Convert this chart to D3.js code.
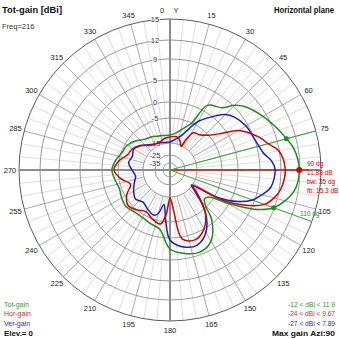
<!DOCTYPE html>
<html><head><meta charset="utf-8">
<script src="https://cdn.jsdelivr.net/npm/d3@7"></script>
<style>html,body{margin:0;padding:0;background:#fff;}svg{display:block;font-family:"Liberation Sans",Arial,sans-serif;}</style>
</head><body>
<script>
// ---- data ----
const ringValues = [15, 12, 9, 5, 0, -5, -15, -25, -35];
const angleLabels = [0,15,30,45,60,75,105,120,135,150,165,180,195,210,225,240,255,270,285,300,315,330,345];
const azimuth = [0,10,20,25,30,40,45,50,60,70,75,80,90,100,110,115,120,125,130,135,140,150,160,170,180,190,200,210,220,230,240,250,260,270,280,290,300,310,320,330,340,350];
const totGain = [-11.8,-10.6,-7.5,-5,1.5,3,5.3,6.6,8.3,9.8,10.5,11.3,11.88,11.3,8.88,5.5,-0.5,-7,-7.8,-5.8,-1,3.2,4.4,3.8,2.5,-2.5,-3.4,-4.1,-4.1,-3.4,-3.8,-4.4,-3.8,-3.1,-4,-5.4,-6,-7.8,-9.8,-10.6,-11.4,-11.8];
const horAz = [0,10,15,20,25,28,32,40,48,55,60,70,75,80,90,100,105,110,115,120,125,130,140,150,160,170,175,180,185,190,200,210,220,230,240,250,260,270,280,290,300,310,320,330,340,350];
const horGain = [-12.6,-12.2,-12.6,-13.8,-15.8,-11.8,-8.2,-7.4,-5,-1.2,2.5,6,7.2,8.9,9.67,9.2,8.4,7,3.5,-2.5,-14.6,-11.8,-4.1,0,1.4,0.45,-9.8,-14.6,-7.8,-4.1,-5,-6.6,-5,-4.1,-5.8,-9,-5.8,-3.75,-5,-7.8,-8.6,-10.6,-13,-13.8,-13.8,-13];
const verAz = [0,10,20,25,30,40,45,50,60,70,75,80,85,90,100,105,110,115,120,125,130,140,150,160,170,180,185,190,195,200,210,220,230,240,250,260,270,280,290,300,310,320,330,340,350];
const verGain = [-14.6,-13.4,-10.6,-7.4,-3.75,0.6,2.4,3.4,4.5,5,5.4,6,7.3,7.89,7.3,6,4.5,1.5,-4.1,-15.8,-13,-4.1,0.9,2.7,2.3,0.45,-5.8,-11.8,-7.8,-6.6,-7.8,-9,-7.8,-9,-10.6,-11.8,-10.6,-9,-9.8,-9,-10.6,-12.6,-13.8,-14.2,-14.6];
const maxAzi = 90, maxGain = 11.88;
const bwEdges = [75, 110];
const markerText = ["90 dg", "11.88 dB", "bw: 35 dg", "fb: 15.3 dB"];
const legendNames = ["Tot-gain", "Hor-gain", "Ver-gain"];
const rangeTexts = ["-12 < dBi < 11.9", "-24 < dBi < 9.67", "-27 < dBi < 7.89"];

// ---- drawing ----
const W = 339, H = 339, cx = 170, cy = 170, R = 151;
const green = "#1e8c1e", red = "#d40000", blue = "#1c1cc4";
const txtCols = ["#2f9a2f", "#d02a2a", "#2a2ac0"];
const svg = d3.select("body").append("svg").attr("width", W).attr("height", H);
svg.append("rect").attr("width", W).attr("height", H).attr("fill", "#fff");
const g = svg.append("g").attr("transform", `translate(${cx},${cy})`);

const rScale = d3.scaleLinear()
  .domain([-35, -25, -15, -5, 0, 5, 9, 12, 15])
  .range([7, 15, 27, 52, 68, 90, 111, 130, 151]).clamp(true);
const rad = a => a * Math.PI / 180;
const px = (a, r) => r * Math.sin(rad(a));
const py = (a, r) => -r * Math.cos(rad(a));

// spokes
const spokes = d3.range(0, 360, 5);
g.selectAll(".sp").data(spokes).enter().append("line")
  .attr("x1", d => px(d, rScale(-15))).attr("y1", d => py(d, rScale(-15)))
  .attr("x2", d => px(d, R)).attr("y2", d => py(d, R))
  .attr("stroke", d => d % 15 === 0 ? "#ababab" : "#dedede").attr("stroke-width", 1);
// rings
g.selectAll(".ring").data(ringValues).enter().append("circle")
  .attr("r", d => rScale(d)).attr("fill", "none")
  .attr("stroke", d => d === 15 ? "#5a5a5a" : "#9a9a9a").attr("stroke-width", 1);
// axes
[0, 90].forEach(a => {
  g.append("line").attr("x1", px(a, R)).attr("y1", py(a, R)).attr("x2", px(a + 180, R)).attr("y2", py(a + 180, R))
    .attr("stroke", "#8c8c8c").attr("stroke-width", 2);
});
// ring labels
g.selectAll(".rl").data(ringValues).enter().append("text")
  .attr("x", -15).attr("y", d => -rScale(d)).attr("dy", "0.35em")
  .attr("text-anchor", "middle").attr("font-size", 7.5).attr("fill", "#333")
  .attr("stroke", "#fff").attr("stroke-width", 1.5).attr("paint-order", "stroke")
  .text(d => d);
// angle labels
g.selectAll(".al").data(angleLabels).enter().append("text")
  .attr("x", d => d === 0 ? -8 : px(d, 160)).attr("y", d => py(d, 160)).attr("dy", "0.35em")
  .attr("text-anchor", "middle").attr("font-size", 7.5).attr("fill", "#222")
  .text(d => d);
g.append("text").attr("x", 6).attr("y", py(0, 160)).attr("dy", "0.35em").attr("text-anchor", "middle")
  .attr("font-size", 7.5).attr("fill", "#222").text("Y");

// markers
g.append("line").attr("x1", 0).attr("y1", 0).attr("x2", px(maxAzi, 138)).attr("y2", py(maxAzi, 138))
  .attr("stroke", red).attr("stroke-width", 1);
bwEdges.forEach(a => {
  g.append("line").attr("x1", 0).attr("y1", 0).attr("x2", px(a, 150)).attr("y2", py(a, 150))
    .attr("stroke", "#3aa63a").attr("stroke-width", 1);
});

// curves
const series = [
  { az: azimuth, v: totGain, c: green },
  { az: horAz, v: horGain, c: red },
  { az: verAz, v: verGain, c: blue }
];
const line = d3.lineRadial().angle(d => rad(d[0])).radius(d => rScale(d[1]))
  .curve(d3.curveCatmullRomClosed.alpha(0.5));
[series[2], series[1], series[0]].forEach(s => {
  g.append("path").attr("d", line(s.az.map((a, i) => [a, s.v[i]])))
    .attr("fill", "none").attr("stroke", s.c).attr("stroke-width", 1.5);
});

// marker dots
g.append("circle").attr("cx", px(maxAzi, rScale(maxGain))).attr("cy", py(maxAzi, rScale(maxGain))).attr("r", 3).attr("fill", red);
bwEdges.forEach(a => {
  const v = totGain[azimuth.indexOf(a)];
  g.append("circle").attr("cx", px(a, rScale(v))).attr("cy", py(a, rScale(v))).attr("r", 2.5).attr("fill", green);
});
svg.selectAll(".mt").data(markerText).enter().append("text")
  .attr("x", 307).attr("y", (d, i) => 165.5 + i * 9.2).attr("font-size", 6.5).attr("fill", red).text(d => d);
svg.append("text").attr("x", 300).attr("y", 216).attr("font-size", 6.5).attr("fill", green).text(bwEdges[1] + " dg");

// titles
svg.append("text").attr("x", 2).attr("y", 13).attr("font-size", 8.5).attr("font-weight", "bold").attr("fill", "#111")
  .attr("textLength", 60).attr("lengthAdjust", "spacingAndGlyphs").text("Tot-gain [dBi]");
svg.append("text").attr("x", 2).attr("y", 29).attr("font-size", 7.5).attr("fill", "#333").text("Freq=216");
svg.append("text").attr("x", 274).attr("y", 13).attr("font-size", 8.5).attr("font-weight", "bold").attr("fill", "#111")
  .attr("textLength", 60).attr("lengthAdjust", "spacingAndGlyphs").text("Horizontal plane");

// legends
svg.selectAll(".lg").data(legendNames).enter().append("text")
  .attr("x", 4).attr("y", (d, i) => 306.5 + i * 9.6).attr("font-size", 7).attr("fill", (d, i) => txtCols[i]).text(d => d);
svg.append("text").attr("x", 4).attr("y", 336).attr("font-size", 7.5).attr("font-weight", "bold").attr("fill", "#111")
  .attr("textLength", 29).attr("lengthAdjust", "spacingAndGlyphs").text("Elev.= 0");
svg.selectAll(".rg").data(rangeTexts).enter().append("text")
  .attr("x", 288).attr("y", (d, i) => 306.5 + i * 9.6).attr("font-size", 7).attr("fill", (d, i) => txtCols[i])
  .attr("textLength", 47).attr("lengthAdjust", "spacingAndGlyphs").text(d => d);
svg.append("text").attr("x", 272).attr("y", 336).attr("font-size", 8).attr("font-weight", "bold").attr("fill", "#111")
  .attr("textLength", 63).attr("lengthAdjust", "spacingAndGlyphs").text("Max gain Azi:" + maxAzi);
</script>
</body></html>
